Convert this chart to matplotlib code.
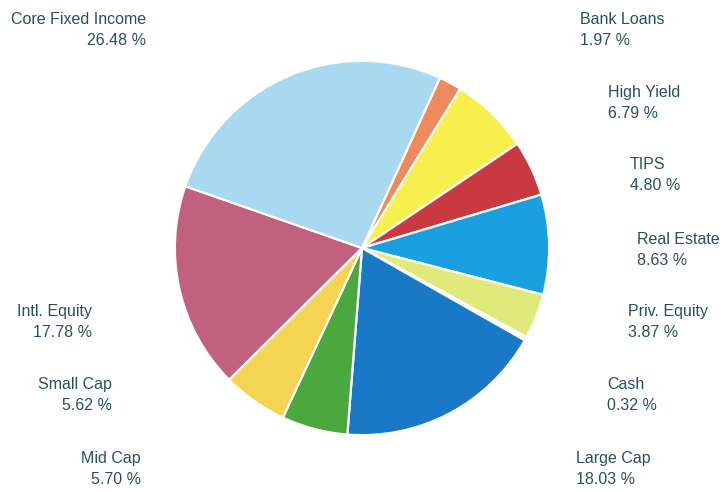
import matplotlib
matplotlib.use("Agg")
import matplotlib.pyplot as plt

names = ["Bank Loans", "High Yield", "TIPS", "Real Estate", "Priv. Equity", "Cash",
         "Large Cap", "Mid Cap", "Small Cap", "Intl. Equity", "Core Fixed Income"]
weights = [1.97, 6.79, 4.80, 8.63, 3.87, 0.32, 18.03, 5.70, 5.62, 17.78, 26.48]

colors = ["#ee8a5c", "#f7ef4e", "#c83a40", "#1a9fe0", "#dfea7a", "#ffffff",
          "#1a79c6", "#4ba83e", "#f4d452", "#c2617f", "#a8d9f0"]

# label anchor in pixels (x, y of centre between the two lines), alignment
label_pos = [(580, 30, "left"), (608, 103, "left"), (630, 175, "left"),
             (637, 250, "left"), (628, 322, "left"), (607, 395, "left"),
             (576, 469, "left"), (141, 469, "right"), (112, 395, "right"),
             (92, 322, "right"), (146, 30, "right")]

W, H = 724, 491
fig = plt.figure(figsize=(W / 100, H / 100), dpi=100)
cx, cy, r = 362, 248, 189
ax = fig.add_axes([(cx - r) / W, (H - cy - r) / H, 2 * r / W, 2 * r / H])
ax.pie(weights, colors=colors, startangle=65.4, counterclock=False,
       wedgeprops=dict(edgecolor="white", linewidth=1.6))
ax.set_xlim(-1.01, 1.01)
ax.set_ylim(-1.01, 1.01)
ax.set_aspect("equal")
ax.axis("off")

for name, w, (px, py, ha) in zip(names, weights, label_pos):
    fig.text(px / W, 1 - py / H, f"{name}\n{w:.2f} %", ha=ha, va="center",
             multialignment=ha, fontsize=11.5, color="#24525c",
             family="Liberation Sans", linespacing=1.45)

fig.savefig("out.png", dpi=100)
